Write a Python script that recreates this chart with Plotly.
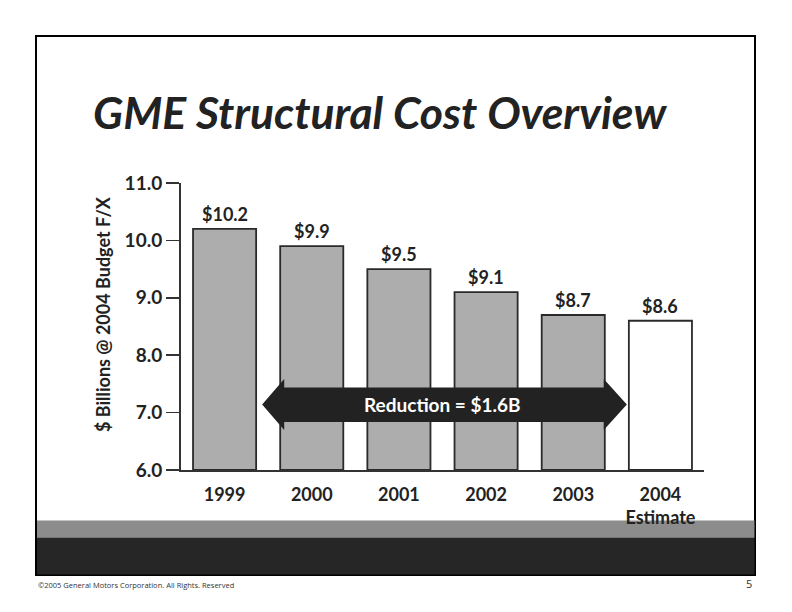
import plotly.graph_objects as go

# ---- data ----
categories = ["1999", "2000", "2001", "2002", "2003", "2004<br>Estimate"]
values = [10.2, 9.9, 9.5, 9.1, 8.7, 8.6]
value_labels = ["$10.2", "$9.9", "$9.5", "$9.1", "$8.7", "$8.6"]
bar_fills = ["#ADADAD", "#ADADAD", "#ADADAD", "#ADADAD", "#ADADAD", "#FFFFFF"]
y_ticks = [6.0, 7.0, 8.0, 9.0, 10.0, 11.0]
arrow_text = "Reduction = $1.6B"
title_text = "GME Structural Cost Overview"
y_title = "$ Billions @ 2004 Budget F/X"
footer_text = "©2005 General Motors Corporation. All Rights. Reserved"
page_number = "5"

W, H = 792, 612
L, R, T, B = 181, 704, 183, 470  # plot area in pixels


def px(x):
    return (x - L) / (R - L)


def py(y):
    return (B - y) / (B - T)


FONT = "Lato, 'Open Sans', sans-serif"
DARK = "#222222"

xs = list(range(len(categories)))

fig = go.Figure()
fig.add_trace(go.Bar(
    x=xs, y=[v - 6.0 for v in values], base=6.0,
    marker=dict(color=bar_fills, line=dict(color="#2a2a2a", width=1.8)),
    width=0.724, hoverinfo="skip",
))

annotations = []
for x, v, t in zip(xs, values, value_labels):
    annotations.append(dict(x=x, y=v, xref="x", yref="y", text=t, showarrow=False,
                            yanchor="bottom", yshift=2,
                            font=dict(family=FONT, size=18, color=DARK, weight="bold")))

# double arrow (in data coords: category index / value)
ax0, ah0, ah1, ax1 = 0.431, 0.684, 4.35, 4.615
yc, ys0, ys1, yh0, yh1 = 7.141, 6.836, 7.437, 6.697, 7.585
path = (f"M {ax0},{yc} L {ah0},{yh1} L {ah0},{ys1} L {ah1},{ys1} L {ah1},{yh1} "
        f"L {ax1},{yc} L {ah1},{yh0} L {ah1},{ys0} L {ah0},{ys0} L {ah0},{yh0} Z")

shapes = [
    # slide border
    dict(type="rect", xref="paper", yref="paper", x0=px(36), x1=px(755), y0=py(575), y1=py(36),
         line=dict(color="black", width=2), fillcolor="rgba(0,0,0,0)", layer="below"),
    # grey band
    dict(type="rect", xref="paper", yref="paper", x0=px(37), x1=px(754.5), y0=py(537.5), y1=py(520.5),
         line=dict(width=0), fillcolor="#8C8C8C", layer="below"),
    # dark band
    dict(type="rect", xref="paper", yref="paper", x0=px(37), x1=px(754.5), y0=py(574.5), y1=py(537.5),
         line=dict(width=0), fillcolor="#262626", layer="below"),
    dict(type="path", xref="x", yref="y", path=path, fillcolor=DARK, line=dict(width=0), layer="above"),
]

annotations += [
    dict(x=(ah0 + ah1) / 2 - 0.02, y=yc, xref="x", yref="y", text=arrow_text, showarrow=False,
         font=dict(family=FONT, size=19, color="white", weight="bold")),
    dict(x=px(91), y=py(111), xref="paper", yref="paper", text=title_text, showarrow=False,
         xanchor="left", yanchor="middle",
         font=dict(family=FONT, size=44.5, color=DARK, weight="bold", style="italic")),
    dict(x=px(103), y=py(314), xref="paper", yref="paper", text=y_title, showarrow=False,
         textangle=-90, xanchor="center", yanchor="middle",
         font=dict(family=FONT, size=18, color=DARK, weight="bold")),
    dict(x=px(36), y=py(585), xref="paper", yref="paper", text=footer_text, showarrow=False,
         xanchor="left", yanchor="middle",
         font=dict(family="'Open Sans', sans-serif", size=7.5, color="#333333")),
    dict(x=px(754), y=py(583), xref="paper", yref="paper", text=page_number, showarrow=False,
         xanchor="right", yanchor="middle",
         font=dict(family="'Open Sans', sans-serif", size=11, color="#333333")),
]

fig.update_layout(
    width=W, height=H,
    margin=dict(l=L, r=W - R, t=T, b=H - B, pad=0),
    paper_bgcolor="white", plot_bgcolor="white",
    showlegend=False,
    shapes=shapes, annotations=annotations,
    xaxis=dict(range=[-0.5, len(categories) - 0.5], tickvals=xs, ticktext=categories,
               showgrid=False, zeroline=False, showline=True, linecolor="#333333", linewidth=2,
               ticks="outside", ticklen=7, tickcolor="rgba(0,0,0,0)",
               tickfont=dict(family=FONT, size=18, color=DARK, weight="bold")),
    yaxis=dict(range=[6.0, 11.0], tickvals=y_ticks, tickformat=".1f",
               showgrid=False, zeroline=False, showline=True, linecolor="#333333", linewidth=2,
               ticks="outside", ticklen=13, tickwidth=1.5, tickcolor="#333333",
               tickfont=dict(family=FONT, size=19, color=DARK, weight="bold")),
)

fig.write_html("out.html", config={"displayModeBar": False, "staticPlot": True},
               post_script="document.body.style.margin='0';document.body.style.overflow='hidden';")
